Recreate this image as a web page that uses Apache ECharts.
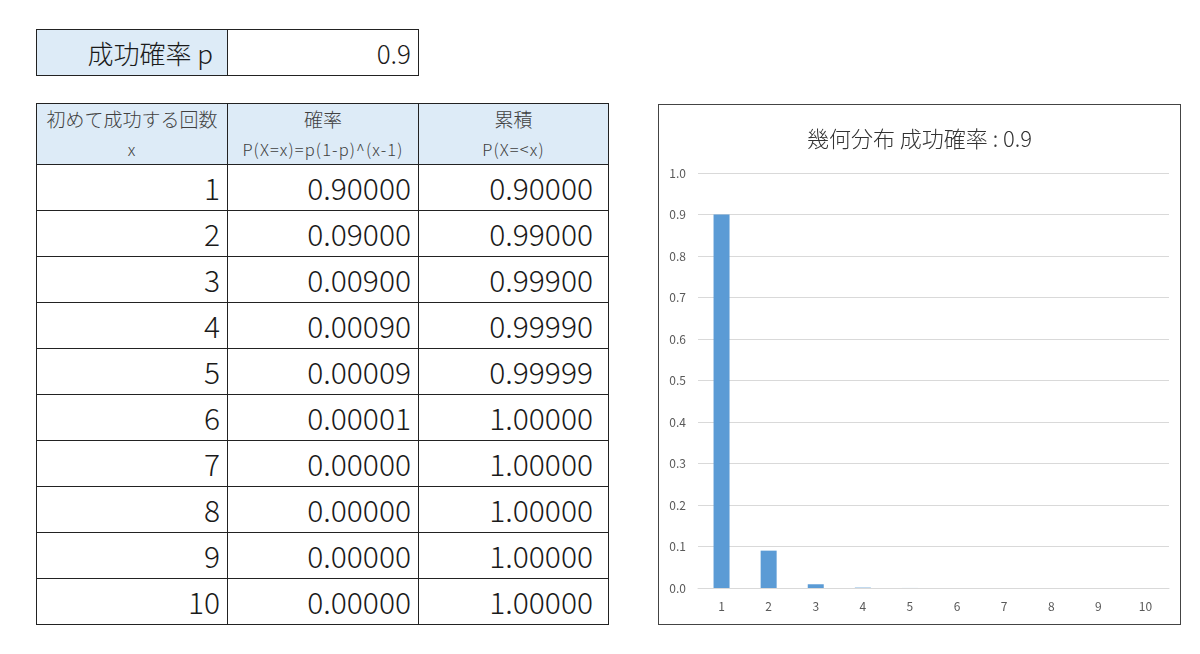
<!DOCTYPE html>
<html><head><meta charset="utf-8">
<script src="https://cdn.jsdelivr.net/npm/echarts@6/dist/echarts.min.js"></script>
<style>
html,body{margin:0;padding:0;background:#fff;width:1200px;height:654px;overflow:hidden;font-family:"Noto Sans CJK JP","Noto Sans",sans-serif;font-weight:300;}
table{border-collapse:collapse;position:absolute;table-layout:fixed;}
td{border:1px solid #222;padding:0;color:#1a1a1a;font-weight:300;white-space:nowrap;}
#ptable{left:36px;top:29px;}
#ptable td{height:45px;font-size:26px;text-align:right;padding-right:7px;line-height:45px;}
#ptable td.blue{padding-right:14px;}
#main{left:36px;top:103px;}
#main td{height:45px;font-size:30px;text-align:right;padding-right:7px;line-height:45px;}
#main td.c3{padding-right:15px;}
#main tr.h td{background:#DDEBF7;text-align:center;height:60px;padding:0;color:#404040;}
#main tr.h td div.l1{font-size:19px;line-height:30px;height:30px;}
#main tr.h td div.l2{font-size:16.5px;line-height:30px;height:30px;letter-spacing:1.1px;}
.blue{background:#DDEBF7;}
#chart{position:absolute;left:658px;top:104px;width:523px;height:521px;box-sizing:border-box;border:1px solid #444;}
</style></head><body>
<table id="ptable"><tr><td class="blue" style="width:176px">成功確率 p</td><td id="pval" style="width:183px"></td></tr></table>
<table id="main"><tbody id="tb"></tbody></table>
<div id="chart"></div>
<script>
const pValue = 0.9;
const xs = [1,2,3,4,5,6,7,8,9,10];
const probs = [0.90000,0.09000,0.00900,0.00090,0.00009,0.00001,0.00000,0.00000,0.00000,0.00000];
const cumul = [0.90000,0.99000,0.99900,0.99990,0.99999,1.00000,1.00000,1.00000,1.00000,1.00000];
const headers = [["初めて成功する回数","x"],["確率","P(X=x)=p(1-p)^(x-1)"],["累積","P(X=<x)"]];
const yTicks = ["0.0","0.1","0.2","0.3","0.4","0.5","0.6","0.7","0.8","0.9","1.0"];

function esc(s){return s.replace(/&/g,'&amp;').replace(/</g,'&lt;').replace(/>/g,'&gt;');}
document.getElementById('pval').textContent = String(pValue);
const tb = document.getElementById('tb');
let h = '<tr class="h">' + headers.map((c,i)=>'<td style="width:'+(i==2?189:190)+'px"><div class="l1">'+esc(c[0])+'</div><div class="l2">'+esc(c[1])+'</div></td>').join('') + '</tr>';
xs.forEach((x,i)=>{
  h += '<tr><td>'+x+'</td><td>'+probs[i].toFixed(5)+'</td><td class="c3">'+cumul[i].toFixed(5)+'</td></tr>';
});
tb.innerHTML = h;

const chart = echarts.init(document.getElementById('chart'));
chart.setOption({
  animation:false,
  title:{text:'幾何分布 成功確率 : '+pValue,left:'center',top:18,textStyle:{fontSize:22,fontWeight:300,color:'#333',fontFamily:'"Noto Sans CJK JP"'}},
  grid:{left:39,right:11,top:68,bottom:36},
  xAxis:{type:'category',data:xs.map(String),axisTick:{show:false},axisLine:{lineStyle:{color:'#D9D9D9'}},
    axisLabel:{color:'#595959',fontSize:12,margin:12,fontFamily:'"Noto Sans CJK JP"'}},
  yAxis:{type:'value',min:0,max:1,interval:0.1,
    axisLabel:{color:'#595959',fontSize:12,margin:12,formatter:v=>yTicks[Math.round(v*10)],fontFamily:'"Noto Sans CJK JP"'},
    splitLine:{lineStyle:{color:'#D9D9D9'}},axisLine:{show:false},axisTick:{show:false}},
  series:[{type:'bar',data:probs,barWidth:16,itemStyle:{color:'#5B9BD5'}}]
});
</script>
</body></html>
